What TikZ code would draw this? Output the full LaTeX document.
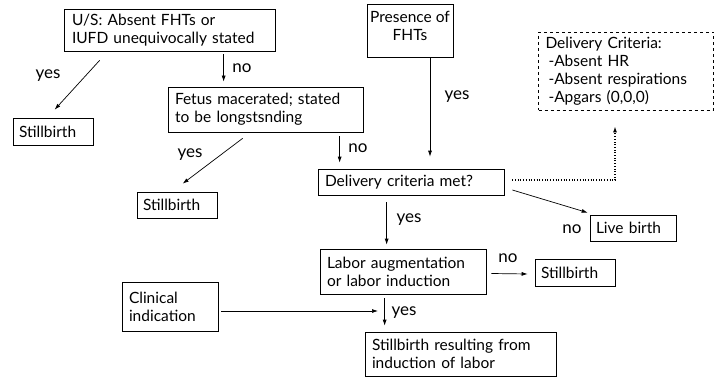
\documentclass[tikz,border=0pt]{standalone}
\usepackage{fontspec}
\setmainfont{Lato}
\usetikzlibrary{arrows.meta,calc}
\begin{document}
\begin{tikzpicture}[x=1pt,y=-1pt,
  box/.style={draw,line width=0.7pt,inner sep=0pt,align=left,
    font=\fontsize{15.5}{18}\selectfont},
  dbox/.style={box,dashed},
  arr/.style={line width=0.7pt,-{Latex[length=6pt,width=4pt]}},
  darr/.style={arr,dotted,line width=1.2pt},
  lab/.style={font=\fontsize{17}{18}\selectfont,inner sep=0pt}]
\useasboundingbox (0,0) rectangle (717,377);
% boxes
\node[box,minimum width=211pt,minimum height=42pt,text width=195pt] (us) at (169.5,30)
  {U/S: Absent FHTs or\\IUFD unequivocally stated};
\node[box,minimum width=80pt,minimum height=27pt,text width=68pt] (sb1) at (53,131.5) {Stillbirth};
\node[box,minimum width=195pt,minimum height=45pt,text width=181pt] (fetus) at (265.5,109.5)
  {Fetus macerated; stated\\to be longstsnding};
\node[box,align=center,minimum width=86pt,minimum height=53pt,text depth=10pt] (pres) at (410,30.5)
  {Presence of\\FHTs};
\node[dbox,minimum width=175pt,minimum height=78pt,text width=161pt] (crit) at (626,71)
  {Delivery Criteria:\\\hspace*{3pt}-Absent HR\\\hspace*{3pt}-Absent respirations\\\hspace*{3pt}-Apgars (0,0,0)};
\node[box,minimum width=186pt,minimum height=26pt,text width=172pt] (deliv) at (411,182) {Delivery criteria met?};
\node[box,minimum width=80pt,minimum height=26pt,text width=68pt] (sb2) at (177,205) {Stillbirth};
\node[box,minimum width=86pt,minimum height=26pt,text width=74pt] (live) at (633,228) {Live birth};
\node[box,minimum width=166pt,minimum height=45pt,text width=152pt] (labor) at (403,271.5)
  {Labor augmentation\\or labor induction};
\node[box,minimum width=80pt,minimum height=27pt,text width=68pt] (sb3) at (575,272.5) {Stillbirth};
\node[box,minimum width=96pt,minimum height=49pt,text width=82pt] (clin) at (170,306.5)
  {Clinical\\indication};
\node[box,minimum width=191pt,minimum height=44pt,text width=177pt] (sbres) at (460.5,354)
  {Stillbirth resulting from\\induction of labor};
% connectors
\draw[arr] ([xshift=36pt,yshift=-9pt]us.south west) -- ([xshift=42pt,yshift=8pt]sb1.north west);
\node[lab] (l1) at (48,76) {yes};
\draw[arr] ([xshift=160pt,yshift=-3pt]us.south west) -- ([xshift=56pt,yshift=5pt]fetus.north west);
\node[lab] (l2) at (242,68) {no};
\draw[arr] ([xshift=75pt,yshift=-6pt]fetus.south west) -- ([xshift=46pt,yshift=8pt]sb2.north west);
\node[lab] (l3) at (190,155) {yes};
\draw[arr] ([xshift=172pt,yshift=-4pt]fetus.south west) -- ([xshift=22pt,yshift=6pt]deliv.north west);
\node[lab] (l4) at (358,148) {no};
\draw[arr] ([xshift=20pt]pres.south) -- ([xshift=19pt,yshift=12pt]deliv.north);
\node[lab] (l5) at (457,97) {yes};
\coordinate (dstart) at ([xshift=8pt,yshift=2pt]deliv.east);
\coordinate (dtip) at ([xshift=-11pt,yshift=-16pt]crit.south);
\draw[darr] (dstart) -| (dtip);
\draw[arr] ([xshift=8pt,yshift=-8pt]deliv.east) -- ([xshift=-2pt,yshift=2pt]live.north west);
\node[lab] (l6) at (572,229) {no};
\draw[arr] ([xshift=69pt,yshift=-7pt]deliv.south west) -- ([xshift=67pt,yshift=4pt]labor.north west);
\node[lab] (l7) at (409,220) {yes};
\draw[arr] ([xshift=5pt,yshift=-2pt]labor.east) -- ([xshift=-7pt,yshift=-1.5pt]sb3.west);
\node[lab] (l8) at (508,258) {no};
\coordinate (cend) at (378,311);
\draw[arr] ([xshift=3pt,yshift=-4.5pt]clin.east) -- (cend);
\draw[arr] ([xshift=65pt,yshift=-4pt]labor.south west) -- ([xshift=20pt,yshift=6pt]sbres.north west);
\node[lab] (l9) at (404,313) {yes};
\end{tikzpicture}
\end{document}
